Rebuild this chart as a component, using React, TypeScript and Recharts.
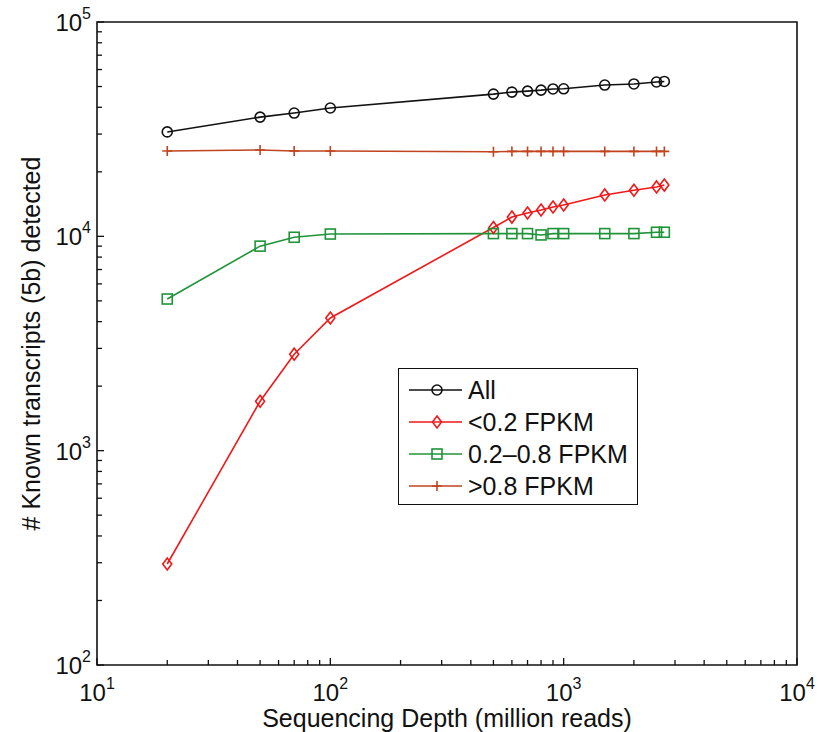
import { LineChart, Line, XAxis, YAxis, ReferenceArea } from 'recharts'

const DEPTH = [20, 50, 70, 100, 500, 600, 700, 800, 900, 1000, 1500, 2000, 2500, 2700]
const ALL = [30700, 36000, 37600, 39700, 46100, 47100, 47600, 48100, 48700, 48800, 50800, 51400, 52500, 52800]
const LOW = [296, 1700, 2820, 4160, 11000, 12300, 12850, 13270, 13700, 14000, 15600, 16400, 17000, 17350]
const MID = [5100, 9000, 9900, 10250, 10300, 10300, 10300, 10150, 10300, 10300, 10300, 10300, 10450, 10450]
const HIGH = [25000, 25300, 25000, 25000, 24800, 24900, 24900, 24900, 24900, 24900, 24900, 24900, 24900, 24900]

const X_TICKS = [10, 20, 30, 40, 50, 60, 70, 80, 90, 100, 200, 300, 400, 500, 600, 700, 800, 900,
  1000, 2000, 3000, 4000, 5000, 6000, 7000, 8000, 9000, 10000]
const Y_TICKS = [100, 200, 300, 400, 500, 600, 700, 800, 900, 1000, 2000, 3000, 4000, 5000, 6000, 7000, 8000, 9000,
  10000, 20000, 30000, 40000, 50000, 60000, 70000, 80000, 90000, 100000]

const SERIES = [
  { key: 'all', name: 'All', color: '#111111', marker: 'circle' },
  { key: 'low', name: '<0.2 FPKM', color: '#f01818', marker: 'diamond' },
  { key: 'mid', name: '0.2\u20130.8 FPKM', color: '#1f9438', marker: 'square' },
  { key: 'high', name: '>0.8 FPKM', color: '#c0441e', marker: 'plus' },
]

const data = DEPTH.map((d, i) => ({ depth: d, all: ALL[i], low: LOW[i], mid: MID[i], high: HIGH[i] }))

const FONT = '"Liberation Sans", Arial, Helvetica, sans-serif'
const isDecade = (v: number) => Math.abs(Math.log10(v) - Math.round(Math.log10(v))) < 1e-9

function Marker({ type, cx, cy, color }: { type: string; cx: number; cy: number; color: string }) {
  if (type === 'circle') return <circle cx={cx} cy={cy} r={5} fill="none" stroke={color} strokeWidth={1.6} />
  if (type === 'diamond')
    return <path d={`M${cx},${cy - 6} L${cx + 4.5},${cy} L${cx},${cy + 6} L${cx - 4.5},${cy} Z`} fill="none" stroke={color} strokeWidth={1.6} />
  if (type === 'square')
    return <rect x={cx - 5} y={cy - 5} width={10} height={10} fill="none" stroke={color} strokeWidth={1.6} />
  return <path d={`M${cx},${cy - 5} L${cx},${cy + 5} M${cx - 5},${cy} L${cx + 5},${cy}`} stroke={color} strokeWidth={1.6} />
}

const dotFor = (type: string, color: string) => (p: any) =>
  <Marker key={`${type}-${p.index}`} type={type} cx={p.cx} cy={p.cy} color={color} />

function Pow({ x, y, exp, anchor }: { x: number; y: number; exp: number; anchor: string }) {
  return (
    <text x={x} y={y} textAnchor={anchor} fontFamily={FONT} fontSize={24} fill="#111">
      <tspan>10</tspan>
      <tspan dy={-12} fontSize={16}>{exp}</tspan>
    </text>
  )
}

function BottomTick({ x, y, payload }: any) {
  const v = payload.value
  const major = isDecade(v)
  return (
    <g>
      <line x1={x} x2={x} y1={y} y2={y - (major ? 7 : 5)} stroke="#111" strokeWidth={1.3} />
      {major && <Pow x={x} y={y + 36} exp={Math.round(Math.log10(v))} anchor="middle" />}
    </g>
  )
}

function TopTick({ x, y, payload }: any) {
  const major = isDecade(payload.value)
  return <line x1={x} x2={x} y1={y} y2={y + (major ? 7 : 5)} stroke="#111" strokeWidth={1.3} />
}

function LeftTick({ x, y, payload }: any) {
  const v = payload.value
  const major = isDecade(v)
  return (
    <g>
      <line x1={x} x2={x + (major ? 7 : 5)} y1={y} y2={y} stroke="#111" strokeWidth={1.3} />
      {major && <Pow x={x - 6} y={y + 9} exp={Math.round(Math.log10(v))} anchor="end" />}
    </g>
  )
}

function RightTick({ x, y, payload }: any) {
  const major = isDecade(payload.value)
  return <line x1={x} x2={x - (major ? 7 : 5)} y1={y} y2={y} stroke="#111" strokeWidth={1.3} />
}

function LegendBox() {
  return (
    <div style={{ position: 'absolute', left: 398, top: 368, width: 240, height: 137, border: '1.5px solid #111',
      background: '#fff', boxSizing: 'border-box' }}>
      <svg width={237} height={134} style={{ display: 'block' }}>
        {SERIES.map((s, i) => {
          const cy = 21 + i * 32
          return (
            <g key={s.key}>
              <line x1={10} x2={63} y1={cy} y2={cy} stroke={s.color} strokeWidth={1.6} />
              <Marker type={s.marker} cx={38} cy={cy} color={s.color} />
              <text x={69} y={cy + 9} fontFamily={FONT} fontSize={25} fill="#111">{s.name}</text>
            </g>
          )
        })}
      </svg>
    </div>
  )
}

export default function App() {
  return (
    <div style={{ position: 'absolute', left: 0, top: 0, width: 827, height: 732, background: '#fff' }}>
      <LineChart width={827} height={732} data={data} margin={{ top: 22, right: 30, bottom: 0, left: 0 }}>
        <XAxis dataKey="depth" type="number" scale="log" domain={[10, 10000]} ticks={X_TICKS} interval={0}
          allowDataOverflow axisLine={false} tickLine={false} tickSize={0} tickMargin={0} height={67}
          tick={<BottomTick />}
          label={{
            content: ({ viewBox }: any) => (
              <text x={viewBox.x + viewBox.width / 2} y={viewBox.y + 62} textAnchor="middle"
                fontFamily={FONT} fontSize={25} fill="#111">Sequencing Depth (million reads)</text>
            ),
          }} />
        <XAxis xAxisId="top" orientation="top" dataKey="depth" type="number" scale="log" domain={[10, 10000]}
          ticks={X_TICKS} interval={0} allowDataOverflow axisLine={false} tickLine={false} tickSize={0}
          tickMargin={0} height={0} tick={<TopTick />} />
        <YAxis type="number" scale="log" domain={[100, 100000]} ticks={Y_TICKS} interval={0} allowDataOverflow
          axisLine={false} tickLine={false} tickSize={0} tickMargin={0} width={97} tick={<LeftTick />}
          label={{
            content: ({ viewBox }: any) => {
              const cx = 33
              const cy = viewBox.y + viewBox.height / 2
              return (
                <text x={cx} y={cy} transform={`rotate(-90 ${cx} ${cy})`} textAnchor="middle"
                  dominantBaseline="middle" fontFamily={FONT} fontSize={25} fill="#111">
                  # Known transcripts (5b) detected
                </text>
              )
            },
          }} />
        <YAxis yAxisId="right" orientation="right" type="number" scale="log" domain={[100, 100000]} ticks={Y_TICKS}
          interval={0} allowDataOverflow axisLine={false} tickLine={false} tickSize={0} tickMargin={0} width={0}
          tick={<RightTick />} />
        <ReferenceArea x1={10} x2={10000} y1={100} y2={100000} fill="none" stroke="#111" strokeWidth={1.6}
          ifOverflow="visible" />
        {SERIES.map((s) => (
          <Line key={s.key} dataKey={s.key} name={s.name} stroke={s.color} strokeWidth={1.6}
            dot={dotFor(s.marker, s.color)} activeDot={false} isAnimationActive={false} />
        ))}
      </LineChart>
      <LegendBox />
    </div>
  )
}
